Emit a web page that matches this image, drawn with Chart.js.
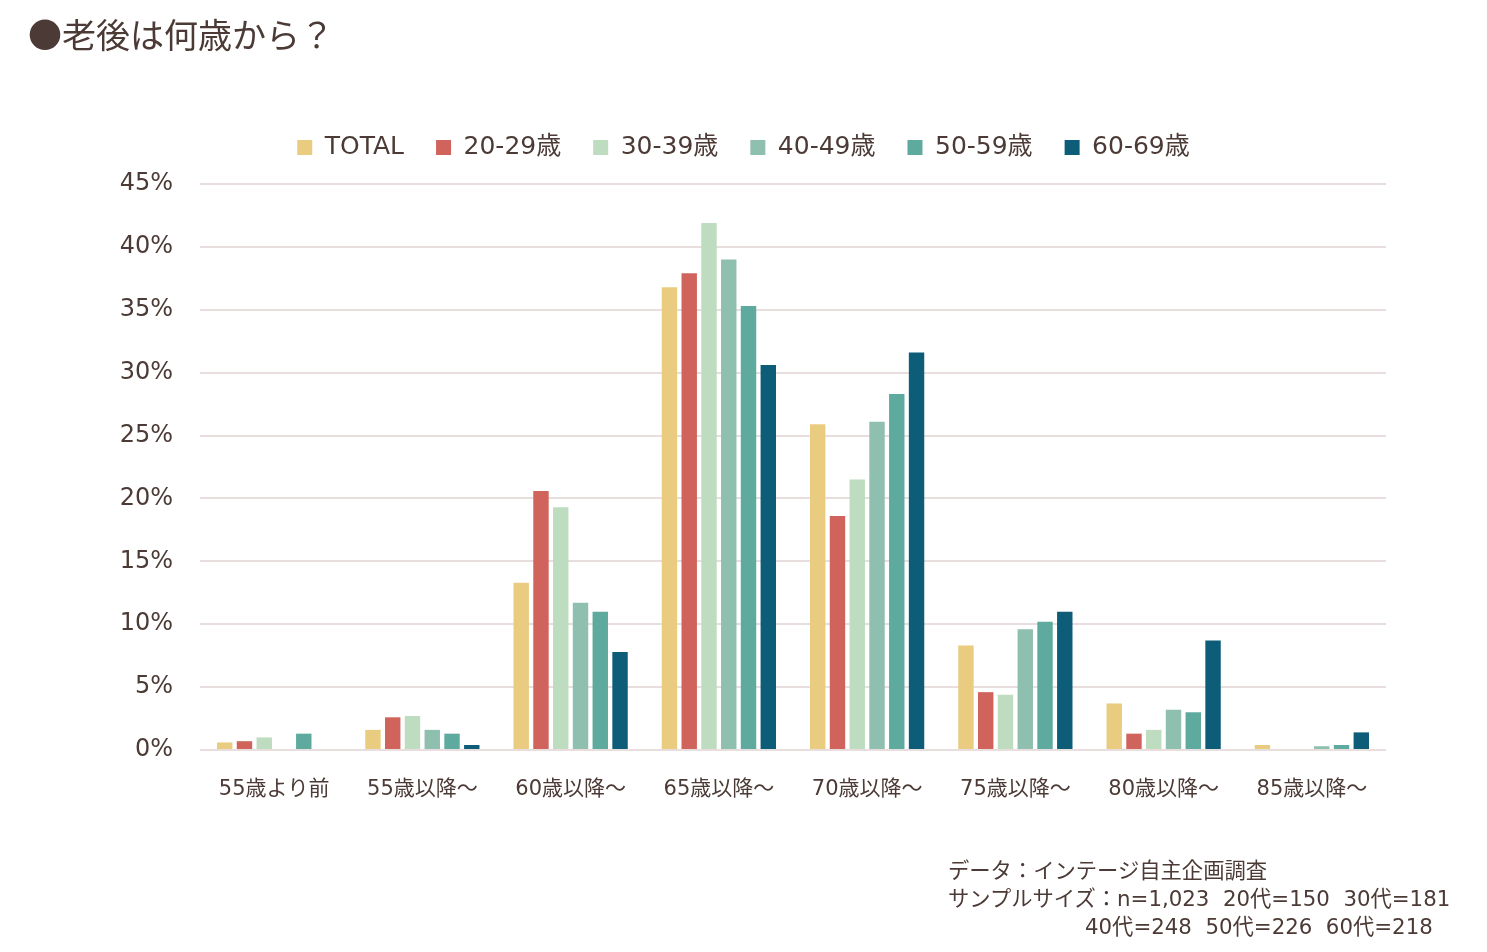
<!DOCTYPE html>
<html>
<head>
<meta charset="utf-8">
<script src="https://cdn.jsdelivr.net/npm/chart.js@4"></script>
<style>
  body { margin: 0; background: #fff; }
  #wrap { position: relative; width: 1487px; height: 952px; font-family: "DejaVu Sans", "Noto Sans CJK JP", sans-serif; color: #4b3a35; }
  #title { position: absolute; left: 28px; top: 9px; font-size: 34px; font-family: "Noto Sans CJK JP", sans-serif; white-space: nowrap; }
  .note { position: absolute; font-size: 21.3px; white-space: nowrap; font-family: "DejaVu Sans", "Noto Sans CJK JP", sans-serif; }
  canvas { position: absolute; left: 0; top: 0; }
</style>
</head>
<body>
<div id="wrap">
  <canvas id="myChart" width="1487" height="952"></canvas>
  <div id="title">●老後は何歳から？</div>
  <div class="note" style="left:948px; top:853px;">データ：インテージ自主企画調査</div>
  <div class="note" style="left:948px; top:881px;">サンプルサイズ：n=1,023&nbsp;&nbsp;20代=150&nbsp;&nbsp;30代=181</div>
  <div class="note" style="left:1085px; top:909px;">40代=248&nbsp;&nbsp;50代=226&nbsp;&nbsp;60代=218</div>
</div>
<script>
var categories = ["55歳より前", "55歳以降～", "60歳以降～", "65歳以降～", "70歳以降～", "75歳以降～", "80歳以降～", "85歳以降～"];
var seriesNames = ["TOTAL", "20-29歳", "30-39歳", "40-49歳", "50-59歳", "60-69歳"];
var colors = ["#e9cc80", "#d0645c", "#bedcc0", "#8fbfaf", "#5eaa9f", "#0d5c78"];

var total = [0.6, 1.6, 13.3, 36.8, 25.9, 8.3, 3.7, 0.4];
var age20 = [0.7, 2.6, 20.6, 37.9, 18.6, 4.6, 1.3, 0];
var age30 = [1.0, 2.7, 19.3, 41.9, 21.5, 4.4, 1.6, 0];
var age40 = [0, 1.6, 11.7, 39.0, 26.1, 9.6, 3.2, 0.3];
var age50 = [1.3, 1.3, 11.0, 35.3, 28.3, 10.2, 3.0, 0.4];
var age60 = [0, 0.4, 7.8, 30.6, 31.6, 11.0, 8.7, 1.4];

var yTicks = [0, 5, 10, 15, 20, 25, 30, 35, 40, 45];

var textColor = "#4b3a35";
var gridColor = "#e8dede";
var fontFamily = '"DejaVu Sans", "Noto Sans CJK JP", sans-serif';

var seriesData = [total, age20, age30, age40, age50, age60];
var datasets = seriesData.map(function(d, i) {
  return {
    label: seriesNames[i],
    data: d,
    backgroundColor: colors[i],
    borderWidth: 0,
    categoryPercentage: 0.8,
    barPercentage: 0.78
  };
});

// legend needs some extra space below it
var legendGap = {
  id: 'legendGap',
  beforeInit: function(chart) {
    var origFit = chart.legend.fit;
    chart.legend.fit = function() {
      origFit.call(this);
      this.height += 14;
    };
  }
};

var ctx = document.getElementById('myChart').getContext('2d');
var chart = new Chart(ctx, {
  type: 'bar',
  data: { labels: categories, datasets: datasets },
  plugins: [legendGap],
  options: {
    responsive: false,
    animation: false,
    layout: { padding: { top: 103, left: 0, right: 0, bottom: 0 } },
    plugins: {
      tooltip: { enabled: false },
      legend: {
        display: true,
        position: 'top',
        labels: {
          boxWidth: 15,
          boxHeight: 15,
          padding: 32,
          color: textColor,
          font: { family: fontFamily, size: 25 }
        }
      }
    },
    scales: {
      x: {
        grid: { display: false, drawTicks: false },
        border: { display: false },
        ticks: { color: textColor, padding: 27, font: { family: fontFamily, size: 21 } },
        afterFit: function(scale) { scale.height = 202; }
      },
      y: {
        min: 0,
        max: 45,
        afterBuildTicks: function(scale) {
          scale.ticks = yTicks.map(function(v) { return { value: v }; });
        },
        grid: { color: gridColor, lineWidth: 2, drawTicks: false },
        border: { display: false },
        ticks: {
          color: textColor,
          padding: 27,
          font: { family: fontFamily, size: 24 },
          callback: function(v) { return v + '%'; }
        },
        afterFit: function(scale) { scale.width = 200; }
      },
      y2: {
        position: 'right',
        display: true,
        grid: { display: false, drawTicks: false },
        border: { display: false },
        ticks: { display: false },
        afterFit: function(scale) { scale.width = 101; }
      }
    }
  }
});
</script>
</body>
</html>
